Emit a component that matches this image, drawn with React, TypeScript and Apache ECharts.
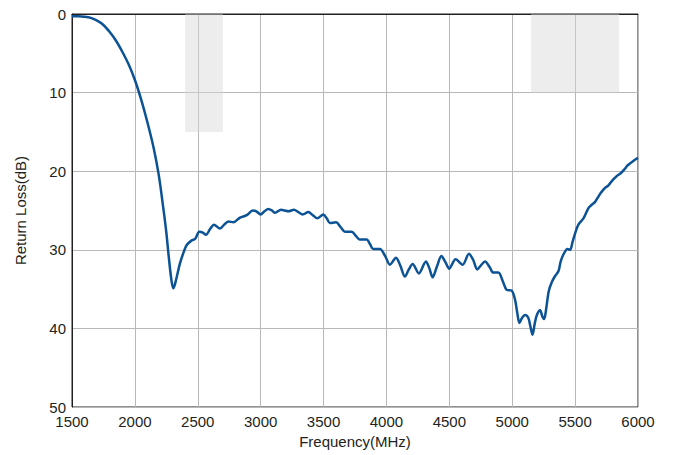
import React, { useEffect, useRef } from "react";
import * as echarts from "echarts";

const freqs = [
  1500, 1550, 1600, 1650, 1700, 1750, 1800, 1850, 1900, 1950, 2000, 2050, 2100, 2150, 2190, 2226, 2250, 2270,
  2290, 2305, 2320,
  2359, 2390, 2412, 2452, 2480, 2512, 2540, 2565, 2600, 2629, 2677, 2710, 2743, 2783, 2836, 2889, 2937, 2965, 3000, 3030,
  3061, 3090, 3114, 3162, 3190, 3220, 3265, 3300, 3334, 3379, 3415, 3450, 3498, 3525, 3551, 3599, 3635, 3670, 3723, 3760,
  3789, 3842, 3870, 3895, 3948, 3990, 4028, 4076, 4110, 4147, 4178, 4208, 4258, 4314, 4340, 4367, 4400, 4437, 4470, 4499,
  4550, 4606, 4656, 4690, 4722, 4750, 4784, 4820, 4850, 4890, 4925, 4956, 4996, 5023, 5040, 5057, 5080, 5103, 5129, 5145,
  5161, 5180, 5196, 5222, 5240, 5254, 5270, 5290, 5315, 5342, 5368, 5385, 5407, 5439, 5460, 5480, 5500, 5526, 5566, 5606,
  5630, 5659, 5690, 5712, 5740, 5765, 5800, 5832, 5860, 5890, 5915, 5938, 5970, 6000,
];

const returnLoss = [
  0.3, 0.3, 0.35, 0.5, 0.85, 1.4, 2.3, 3.4, 4.8, 6.4, 8.4, 10.9, 13.8, 17.1, 20.5, 24.7, 27.8, 31.0,
  33.8, 34.9, 34.3,
  31.7, 30.2, 29.4, 28.8, 28.6, 27.7, 27.8, 28.1, 27.3, 26.8, 27.3, 26.8, 26.4, 26.5, 25.9, 25.6, 25.0, 25.1, 25.5, 25.1,
  24.8, 25.0, 25.3, 24.9, 25.0, 25.1, 24.9, 25.2, 25.5, 25.2, 25.6, 26.0, 25.5, 26.0, 26.6, 26.5, 27.1, 27.7, 27.7, 28.3,
  28.7, 28.7, 29.3, 29.9, 29.9, 30.8, 31.9, 31.0, 32.0, 33.4, 32.5, 31.8, 33.0, 31.5, 32.3, 33.5, 32.2, 30.8, 31.6, 32.4,
  31.2, 31.9, 30.5, 31.3, 32.5, 32.0, 31.5, 32.2, 32.9, 32.9, 34.0, 35.1, 35.2, 36.4, 38.0, 39.3, 38.6, 38.3, 38.7, 39.8,
  40.8, 39.3, 38.3, 37.7, 38.5, 38.8, 37.5, 35.3, 34.1, 33.3, 32.7, 31.5, 30.6, 29.9, 30.0, 29.0, 27.9, 26.8, 26.0, 24.7,
  24.3, 23.9, 23.1, 22.6, 22.1, 21.8, 21.1, 20.6, 20.3, 19.8, 19.3, 19.0, 18.6, 18.3,
];

// shaded bands: [fromMHz, toMHz, depth dB]
const bandStart = [2400, 5150];
const bandEnd = [2700, 5850];
const bandDepth = [15, 10];

const xAxisName = "Frequency(MHz)";
const yAxisName = "Return Loss(dB)";

const textColor = "#231f20";
const font = "'Liberation Sans', Arial, sans-serif";

export default function App() {
  const ref = useRef<HTMLDivElement>(null);

  useEffect(() => {
    document.body.style.margin = "0";
    if (!ref.current) return;
    const chart = echarts.init(ref.current, undefined, { renderer: "svg" });
    const data = freqs.map((f, i) => [f, returnLoss[i]]);
    const bands = bandStart.map((s, i) => [
      { xAxis: s, yAxis: 0 },
      { xAxis: bandEnd[i], yAxis: bandDepth[i] },
    ]);
    chart.setOption({
      animation: false,
      backgroundColor: "#ffffff",
      grid: {
        left: 72,
        right: 37,
        top: 14,
        bottom: 48,
        show: true,
        borderColor: textColor,
        borderWidth: 1,
        backgroundColor: "transparent",
      },
      xAxis: {
        type: "value",
        min: 1500,
        max: 6000,
        interval: 500,
        name: xAxisName,
        nameLocation: "middle",
        nameGap: 26,
        nameTextStyle: { color: textColor, fontSize: 15, fontFamily: font },
        axisLine: { show: true, lineStyle: { color: textColor, width: 1 } },
        axisTick: { show: false },
        axisLabel: {
          color: textColor,
          fontSize: 15,
          fontFamily: font,
          margin: 7,
          formatter: (v: number) => String(v),
        },
        splitLine: { show: true, lineStyle: { color: "#b8b8b8", width: 1 } },
      },
      yAxis: {
        type: "value",
        inverse: true,
        min: 0,
        max: 50,
        interval: 10,
        name: yAxisName,
        nameLocation: "middle",
        nameGap: 44,
        nameRotate: 90,
        nameTextStyle: { color: textColor, fontSize: 15, fontFamily: font },
        axisLine: { show: true, lineStyle: { color: textColor, width: 1 } },
        axisTick: { show: false },
        axisLabel: {
          color: textColor,
          fontSize: 15,
          fontFamily: font,
          margin: 6,
          formatter: (v: number) => String(v),
        },
        splitLine: { show: true, lineStyle: { color: "#b8b8b8", width: 1 } },
      },
      series: [
        {
          type: "line",
          data,
          smooth: 0.3,
          symbol: "none",
          lineStyle: { color: "#0b5394", width: 2.5 },
          z: 3,
          markArea: {
            silent: true,
            itemStyle: { color: "rgba(215,215,215,0.45)" },
            data: bands,
          },
        },
      ],
    });
    return () => chart.dispose();
  }, []);

  return <div ref={ref} style={{ width: 675, height: 455 }} />;
}
